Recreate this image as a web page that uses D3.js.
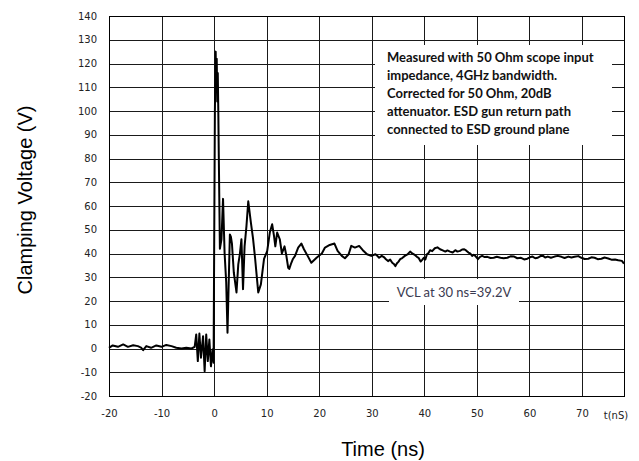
<!DOCTYPE html>
<html>
<head>
<meta charset="utf-8">
<script src="https://cdn.jsdelivr.net/npm/d3@7/dist/d3.min.js"></script>
<style>
  body { margin: 0; background: #fff; }
  svg { display: block; }
</style>
</head>
<body>
<div id="chart"></div>
<script>
// === DATA ===
// waveform, split into stretches
const timeHead = [
  -20, -19.3, -18.3, -17.3, -16.4, -15.4, -14.5, -13.9, -13.5, -12.9, -12, -11, -10, -9.1, -8.1, -7.2, -6.2, -5.3, -4.3, -3.7,
  -3.4, -3.1, -2.8, -2.5, -2.1, -1.8, -1.5, -1.2, -0.9, -0.6, -0.3, -0.1,
  0.15, 0.3, 0.4, 0.5, 0.6, 0.7, 0.8, 0.9, 1.1, 1.4, 1.7, 2.0, 2.3, 2.55,
  3.0, 3.2, 3.4, 3.75, 4.26, 4.6, 4.9, 5.2, 5.5, 5.8, 6.16, 6.5, 7.0, 7.4, 7.8, 8.4, 8.9, 9.5,
  10.1, 10.6, 11.05, 11.4, 11.65, 12.0, 12.5, 12.9, 13.4, 13.7, 14.1, 14.3, 14.7, 15.0, 15.4, 16.0, 16.6, 17.1, 17.8, 18.5, 19.5,
  20.5, 21.1, 22.0, 22.9, 23.5, 24.3, 24.9, 25.6, 26.1, 26.8, 27.6, 28.3, 29.1, 29.9
]
const voltHead = [
  0.3, 1.3, 0.7, 1.7, 0.7, 1.4, 1.0, 0.4, -0.7, 1.0, 0.3, 1.3, 0.7, 1.5, 1.0, 0.3, 0, 0.3, 0, 0.7,
  5.9, -5.3, 6.3, -3.9, 5.2, -9.6, 5.9, -5.3, 3.8, -7.5, -0.4, -6,
  100, 125, 110, 122, 104, 116, 100, 80, 42, 46, 63, 40, 28, 6.6,
  48, 47, 44, 32, 23.6, 35.4, 39.7, 46, 25, 43, 51.6, 62, 53, 46.5, 38, 23.6, 27, 37.7,
  41, 48.8, 52.3, 47.4, 43, 48.8, 46, 40, 43, 39.7, 34, 33.5, 36.1, 37.7, 39, 42.5, 44.2, 41.8, 39, 36.1, 38.2,
  40, 42.5, 43.6, 44.2, 41.1, 39, 38, 39.7, 43.2, 42.5, 43.2, 41.4, 39.7, 39
]
const timeTail = [
  30.7, 31.1, 31.4, 31.9, 32.3, 32.7, 33.1, 33.5, 33.9, 34.2,
  34.5, 34.8, 35.1, 35.4, 35.8, 36.3, 36.8, 37.3, 37.7, 38.2,
  38.6, 38.9, 39.3, 39.6, 39.9, 40.2, 40.5, 40.8, 41.1, 41.5,
  42.0, 42.5, 43.0, 43.5, 44.0, 44.4, 44.9, 45.4, 45.9, 46.3,
  46.8, 47.2, 47.6, 48.0, 48.4, 48.8, 49.1, 49.4, 49.7, 50.0,
  50.2, 50.6, 51.0, 51.5, 52.0, 52.6, 53.2, 53.8, 54.5, 55.1,
  55.8, 56.4, 57.1, 57.7, 58.4, 59.0, 59.6, 60.1, 60.6, 61.1,
  61.6, 62.1, 62.6, 63.0, 63.5, 64.1, 64.8, 65.4, 66.1, 66.7,
  67.4, 68.0, 68.6, 69.3, 69.9, 70.5, 71.2, 71.8, 72.4, 73.0,
  73.7, 74.3, 75.0, 75.6, 76.3, 76.9, 77.6, 78
]
const voltTail = [
  39.7, 38.9, 38.2, 39.0, 38.5, 37.6, 36.8, 37.4, 36.1, 35.6,
  34.7, 35.9, 36.6, 37.6, 38.1, 39.0, 39.6, 40.8, 40.0, 39.4,
  38.6, 38.2, 36.6, 37.3, 38.2, 37.5, 39.7, 40.2, 41.4, 41.0,
  42.2, 42.6, 41.8, 41.3, 40.8, 41.3, 40.8, 40.4, 41.4, 40.8,
  41.1, 41.7, 41.8, 41.2, 40.4, 39.9, 39.0, 39.5, 39.0, 38.2,
  37.6, 38.6, 39.0, 38.5, 38.6, 38.1, 38.2, 38.6, 38.2, 38.0,
  38.2, 38.8, 38.7, 38.0, 38.2, 37.5, 37.8, 38.4, 38.7, 38.0,
  38.2, 38.9, 39.0, 38.3, 38.7, 38.2, 38.7, 39.0, 38.6, 38.1,
  38.7, 38.3, 38.6, 38.9, 38.2, 37.7, 37.8, 38.4, 38.2, 37.6,
  37.8, 38.3, 37.9, 37.4, 37.5, 37.2, 36.9, 35.7
]
const xTicks = [-20, -10, 0, 10, 20, 30, 40, 50, 60, 70]
const yTicks = [-20, -10, 0, 10, 20, 30, 40, 50, 60, 70, 80, 90, 100, 110, 120, 130, 140]
const noteLines = [
  'Measured with 50 Ohm scope input',
  'impedance, 4GHz bandwidth.',
  'Corrected for 50 Ohm, 20dB',
  'attenuator. ESD gun return path',
  'connected to ESD ground plane'
]
const vclLabel = 'VCL at 30 ns=39.2V'

const timeNs = timeHead.concat(timeTail)
const voltage = voltHead.concat(voltTail)

// === LAYOUT ===
const W = 639, H = 461
const plot = { left: 109, right: 624, top: 16, bottom: 396 }

const svg = d3.select('#chart').append('svg')
  .attr('width', W)
  .attr('height', H)

const x = d3.scaleLinear().domain([-20, 78]).range([plot.left, plot.right])
const y = d3.scaleLinear().domain([-20, 140]).range([plot.bottom, plot.top])

// grid
const grid = svg.append('g').attr('shape-rendering', 'crispEdges')
grid.selectAll('line.h')
  .data(yTicks)
  .join('line')
  .attr('class', 'h')
  .attr('x1', plot.left).attr('x2', plot.right)
  .attr('y1', d => Math.round(y(d)) + 0.5).attr('y2', d => Math.round(y(d)) + 0.5)
  .attr('stroke', '#1a1a1a')
grid.selectAll('line.v')
  .data(xTicks)
  .join('line')
  .attr('class', 'v')
  .attr('y1', plot.top).attr('y2', plot.bottom)
  .attr('x1', d => Math.round(x(d)) + 0.5).attr('x2', d => Math.round(x(d)) + 0.5)
  .attr('stroke', '#1a1a1a')

// white boxes over the grid
svg.append('rect')
  .attr('x', 375).attr('y', 45).attr('width', 237).attr('height', 100)
  .attr('fill', '#fff')
svg.append('rect')
  .attr('x', 389).attr('y', 279).attr('width', 130).attr('height', 26)
  .attr('fill', '#fff')

// border
svg.append('rect')
  .attr('x', plot.left + 0.5).attr('y', plot.top + 0.5)
  .attr('width', plot.right - plot.left).attr('height', plot.bottom - plot.top)
  .attr('fill', 'none')
  .attr('stroke', '#000')
  .attr('shape-rendering', 'crispEdges')

// tick labels (plain hyphen for negatives, like the original)
const fmt = d => String(d)

svg.append('g')
  .attr('transform', `translate(${plot.left},0)`)
  .call(d3.axisLeft(y).tickValues(yTicks).tickSize(0).tickPadding(12).tickFormat(fmt))
  .call(g => g.select('.domain').remove())
  .selectAll('text')
  .attr('font-family', 'DejaVu Sans')
  .attr('font-size', 10)
  .attr('fill', '#222')

svg.append('g')
  .attr('transform', `translate(0,${plot.bottom})`)
  .call(d3.axisBottom(x).tickValues(xTicks).tickSize(0).tickPadding(14).tickFormat(fmt))
  .call(g => g.select('.domain').remove())
  .selectAll('text')
  .attr('font-family', 'DejaVu Sans')
  .attr('font-size', 10)
  .attr('fill', '#222')

svg.append('text')
  .attr('x', 616).attr('y', 419)
  .attr('text-anchor', 'middle')
  .attr('font-family', 'DejaVu Sans')
  .attr('font-size', 10)
  .attr('fill', '#222')
  .text('t(nS)')

// trace
const line = d3.line()
  .x((d, i) => x(timeNs[i]))
  .y(d => y(d))
svg.append('path')
  .datum(voltage)
  .attr('d', line)
  .attr('fill', 'none')
  .attr('stroke', '#000')
  .attr('stroke-width', 2)
  .attr('stroke-linejoin', 'round')

// notes
svg.append('g').selectAll('text')
  .data(noteLines)
  .join('text')
  .attr('x', 387)
  .attr('y', (d, i) => 62 + i * 18)
  .attr('font-family', 'Lato')
  .attr('font-weight', 'bold')
  .attr('font-size', 13)
  .attr('fill', '#111')
  .text(d => d)

svg.append('text')
  .attr('x', 454).attr('y', 297)
  .attr('text-anchor', 'middle')
  .attr('font-family', 'Lato')
  .attr('font-size', 13)
  .attr('fill', '#3a3a50')
  .text(vclLabel)

// titles
svg.append('text')
  .attr('transform', 'translate(32,200) rotate(-90)')
  .attr('text-anchor', 'middle')
  .attr('font-family', 'Liberation Sans')
  .attr('font-size', 20)
  .attr('fill', '#000')
  .text('Clamping Voltage (V)')

svg.append('text')
  .attr('x', 383).attr('y', 456)
  .attr('text-anchor', 'middle')
  .attr('font-family', 'Liberation Sans')
  .attr('font-size', 20)
  .attr('fill', '#000')
  .text('Time (ns)')
</script>
</body>
</html>
